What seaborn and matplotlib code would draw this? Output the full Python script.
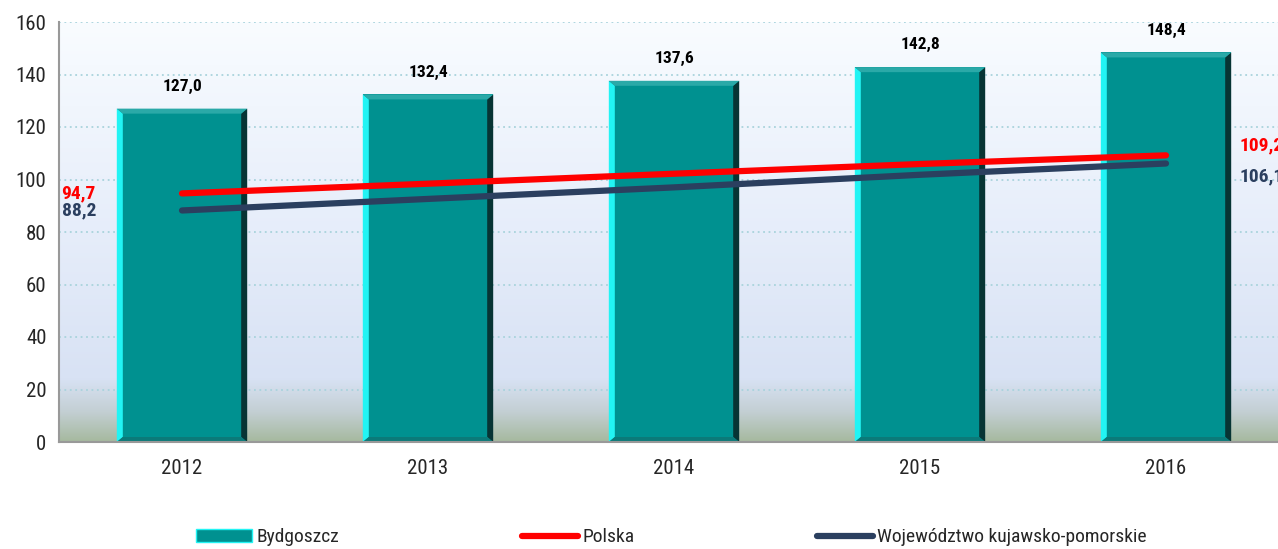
import numpy as np
import pandas as pd
import matplotlib
matplotlib.use('Agg')
import matplotlib.pyplot as plt
from matplotlib import font_manager as fm
from matplotlib.colors import LinearSegmentedColormap
from matplotlib.patches import Polygon, Patch
from matplotlib.lines import Line2D
import seaborn as sns

# Data
years = ['2012', '2013', '2014', '2015', '2016']
bydgoszcz = [127.0, 132.4, 137.6, 142.8, 148.4]
polska = [94.7, 98.4, 102.2, 105.9, 109.2]
wojewodztwo = [88.2, 92.6, 97.0, 101.8, 106.1]
y_ticks = [0, 20, 40, 60, 80, 100, 120, 140, 160]

sns.set_style('white')

# the original uses Arial Narrow - pick a narrow face that also has a bold weight
fonts = fm.fontManager.ttflist
narrow_all = {f.name for f in fonts if 'Narrow' in f.name or 'Condensed' in f.name}
narrow_bold = {f.name for f in fonts
               if f.name in narrow_all and f.weight in (600, 700, 800, 'bold', 'semibold')}
prefer = ['Liberation Sans Narrow', 'Arial Narrow', 'Roboto Condensed',
          'Open Sans Condensed', 'Noto Sans Condensed', 'DejaVu Sans Condensed']
pick = [n for n in prefer if n in narrow_bold] or sorted(narrow_bold) or sorted(narrow_all)
plt.rcParams['font.family'] = pick[:1] + ['Liberation Sans', 'DejaVu Sans']

teal = '#009190'
red = '#ff0000'
navy = '#2b3f5f'

df = pd.DataFrame({'rok': years, 'Bydgoszcz': bydgoszcz,
                   'Polska': polska, 'Woj': wojewodztwo})

fig = plt.figure(figsize=(12.78, 5.49), dpi=100)
ax = fig.add_axes([59 / 1278, 1 - 442 / 549, 1230 / 1278, 420 / 549])

# background gradient
bg = LinearSegmentedColormap.from_list('bg', [
    (0.0, '#a6b99f'), (0.07, '#c3cfd3'), (0.15, '#d8e2f4'),
    (0.5, '#e6edfa'), (0.8, '#f1f6fd'), (1.0, '#f9fcff')])
grad = np.linspace(1, 0, 256).reshape(-1, 1)
ax.imshow(grad, cmap=bg, extent=[-0.5, 4.5, 0, 160], aspect='auto', zorder=0)

sns.barplot(data=df, x='rok', y='Bydgoszcz', color=teal, width=0.53,
            saturation=1, ax=ax, zorder=3, edgecolor='none')

# bevel edges on bars
px_x = 1 / 246.0
px_y = 1 / 2.625
for p in ax.patches:
    x0, w, h = p.get_x(), p.get_width(), p.get_height()
    x1 = x0 + w
    bx, by = 6 * px_x, 5 * px_y
    ax.add_patch(Polygon([[x0, 0], [x0, h], [x0 + bx, h - by], [x0 + bx, by]],
                         closed=True, color='#22f4f4', zorder=4, lw=0))
    ax.add_patch(Polygon([[x1, 0], [x1, h], [x1 - bx, h - by], [x1 - bx, by]],
                         closed=True, color='#073434', zorder=4, lw=0))
    ax.add_patch(Polygon([[x0, h], [x1, h], [x1 - bx, h - by], [x0 + bx, h - by]],
                         closed=True, color='#2aa9a8', zorder=4, lw=0))
    ax.add_patch(Polygon([[x0, 0], [x1, 0], [x1 - bx, by], [x0 + bx, by]],
                         closed=True, color='#0b7a79', zorder=4, lw=0))
    ax.annotate(f'{h:.1f}'.replace('.', ','), (x0 + w / 2, h), xytext=(0, 16),
                textcoords='offset points', ha='center', va='center',
                fontsize=12.5, fontweight='bold', color='black', zorder=6)

xs = np.arange(len(years))
ax.plot(xs, polska, color=red, lw=4.5, solid_capstyle='round', zorder=5)
ax.plot(xs, wojewodztwo, color=navy, lw=4.5, solid_capstyle='round', zorder=5)

# end labels for lines
ax.text(-0.35, polska[0], f'{polska[0]:.1f}'.replace('.', ','), color=red,
        ha='right', va='center', fontsize=14, fontweight='bold')
ax.text(-0.35, wojewodztwo[0], f'{wojewodztwo[0]:.1f}'.replace('.', ','), color=navy,
        ha='right', va='center', fontsize=14, fontweight='bold')
ax.text(4.3, polska[-1] + 3.8, f'{polska[-1]:.1f}'.replace('.', ','), color=red,
        ha='left', va='center', fontsize=14, fontweight='bold')
ax.text(4.3, wojewodztwo[-1] - 4.8, f'{wojewodztwo[-1]:.1f}'.replace('.', ','), color=navy,
        ha='left', va='center', fontsize=14, fontweight='bold')

ax.set_xlim(-0.5, 4.5)
ax.set_ylim(0, 160)
ax.set_yticks(y_ticks)
ax.set_yticklabels([str(v) for v in y_ticks], fontsize=15)
ax.set_xticks(xs)
ax.set_xticklabels(years, fontsize=15)
ax.set_xticks(np.arange(-0.5, 5, 1), minor=True)
ax.tick_params(axis='x', which='major', length=0, pad=12)
ax.tick_params(axis='x', which='minor', length=8, width=1.2, color='#888888', direction='out')
ax.tick_params(axis='y', length=5, width=1.2, color='#888888', direction='out', pad=4)
for v in y_ticks[1:]:
    ax.axhline(v, color='#a9d3dc', lw=1.3, ls=(0, (1, 2)), zorder=1)
ax.set_xlabel('')
ax.set_ylabel('')
for s in ['top', 'right']:
    ax.spines[s].set_visible(False)
for s in ['left', 'bottom']:
    ax.spines[s].set_color('#999999')
    ax.spines[s].set_linewidth(1.5)
    ax.spines[s].set_zorder(7)

handles = [Patch(facecolor=teal, edgecolor='#22f4f4', lw=1),
           Line2D([0], [0], color=red, lw=4.5, solid_capstyle='round'),
           Line2D([0], [0], color=navy, lw=4.5, solid_capstyle='round')]
fig.legend(handles, ['Bydgoszcz', 'Polska', 'Województwo kujawsko-pomorskie'],
           loc='center', bbox_to_anchor=(0.5254, 0.021), ncol=3, frameon=False,
           fontsize=14, handlelength=2.9, handleheight=0.6, handletextpad=0.2,
           columnspacing=9.4)

fig.savefig('out.png', dpi=100)
